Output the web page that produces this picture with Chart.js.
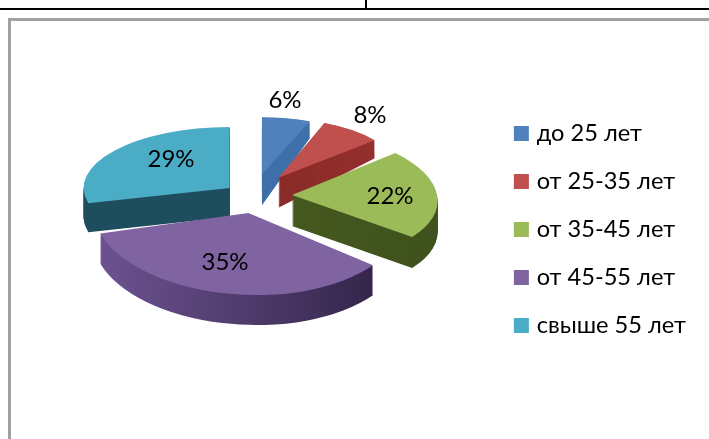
<!DOCTYPE html>
<html>
<head>
<meta charset="utf-8">
<style>
    html, body { margin: 0; padding: 0; background: #fff; }
    #wrap { position: relative; width: 709px; height: 439px; overflow: hidden; }
    .rule { position: absolute; }
    #graficoIdade { position: absolute; left: 0; top: 0; }
</style>
<script src="https://cdn.jsdelivr.net/npm/chart.js@4"></script>
</head>
<body>
<div id="wrap">
    <div class="rule" style="left:0;top:8px;width:709px;height:2px;background:#000"></div>
    <div class="rule" style="left:365px;top:0;width:2px;height:9px;background:#000"></div>
    <div class="rule" style="left:8px;top:18px;width:701px;height:3px;background:#a0a0a0"></div>
    <div class="rule" style="left:8px;top:18px;width:3px;height:421px;background:#a0a0a0"></div>
    <canvas id="graficoIdade" width="709" height="439"></canvas>
</div>
<script>
const categorias = ["до 25 лет", "от 25-35 лет", "от 35-45 лет", "от 45-55 лет", "свыше 55 лет"];
const valores = [6, 8, 22, 35, 29];
const cores = ["#4f81bd", "#c0504d", "#9bbb59", "#8064a2", "#4bacc6"];

/* faux 3D look of each slice, in the same order as the values */
const lateralEsq = ["#3c6ca6", "#7d2624", "#4b5f22", "#6d5290", "#1e4d5e"];
const lateralDir = ["#3f72ad", "#96302d", "#3f511c", "#2c2042", "#1e4d5e"];
const raioX = [130, 125, 145, 155, 146];
const raioY = [57, 59, 66, 82, 61];
const afastamento = [48, 45, 41, 35, 27];
const ajusteX = [2, 1, 0, 5, 0];
const inclinacao = [0, 0, 0.2, 0.1, 0];
const espessura = [31, 30, 31, 30, 29];
const perspectiva = [0.27, 0.32, 0, 0, 0];
const ordemDesenho = [0, 1, 4, 2, 3];
const posRotulos = [[285, 100], [370, 115], [390, 196], [225, 262], [171, 159]];

const centroX = 251;
const centroY = 195;
const fonte = "Lato, 'Open Sans', 'Noto Sans', sans-serif";

const pizza3d = {
    id: "pizza3d",
    beforeDatasetDraw(chart) {
        const ctx = chart.ctx;
        const arcos = chart.getDatasetMeta(0).data;

        ordemDesenho.forEach(i => {
            const arco = arcos[i];
            const meio = (arco.startAngle + arco.endAngle) / 2;
            const sx = raioX[i] / arco.outerRadius;
            const sy = raioY[i] / arco.outerRadius;
            const px = centroX + ajusteX[i] + Math.cos(meio) * afastamento[i];
            const py = centroY + Math.sin(meio) * afastamento[i] * raioY[i] / raioX[i];

            const desenha = (d, escala) => {
                ctx.save();
                ctx.translate(px, py + d);
                ctx.transform(sx, 0, inclinacao[i] * sy, sy * escala, 0, 0);
                ctx.translate(-arco.x, -arco.y);
                arco.draw(ctx);
                ctx.restore();
            };

            const original = arco.options;
            const grad = ctx.createLinearGradient(arco.x - arco.outerRadius, 0, arco.x + arco.outerRadius, 0);
            grad.addColorStop(0, lateralEsq[i]);
            grad.addColorStop(1, lateralDir[i]);

            /* side walls: the same arc stacked downwards */
            arco.options = Object.assign({}, original, { backgroundColor: grad });
            for (let d = espessura[i]; d >= 1; d--) {
                desenha(d, 1 + perspectiva[i] * d / espessura[i]);
            }
            arco.options = original;

            desenha(0, 1);
        });

        return false;
    },
    afterDatasetsDraw(chart) {
        const ctx = chart.ctx;
        ctx.save();
        ctx.font = "24px " + fonte;
        ctx.fillStyle = "#000";
        ctx.textAlign = "center";
        ctx.textBaseline = "middle";
        valores.forEach((v, i) => {
            ctx.fillText(v + "%", posRotulos[i][0], posRotulos[i][1]);
        });
        ctx.restore();
    }
};

new Chart(document.getElementById("graficoIdade"), {
    type: "pie",
    data: {
        labels: categorias,
        datasets: [{
            data: valores,
            backgroundColor: cores,
            borderWidth: 0
        }]
    },
    plugins: [pizza3d],
    options: {
        responsive: false,
        animation: false,
        layout: { padding: { top: 40, bottom: 20, left: 20, right: 13 } },
        plugins: {
            tooltip: { enabled: false },
            legend: {
                position: "right",
                labels: {
                    boxWidth: 7,
                    boxHeight: 7,
                    padding: 24.4,
                    color: "#000",
                    font: { family: fonte, size: 23.6 },
                    /* thick outline gives the 15px key with a tighter gap to the text */
                    generateLabels(chart) {
                        return Chart.overrides.doughnut.plugins.legend.labels.generateLabels(chart)
                            .map(item => ({ ...item, lineWidth: 8, strokeStyle: item.fillStyle }));
                    }
                }
            }
        }
    }
});
</script>
</body>
</html>
